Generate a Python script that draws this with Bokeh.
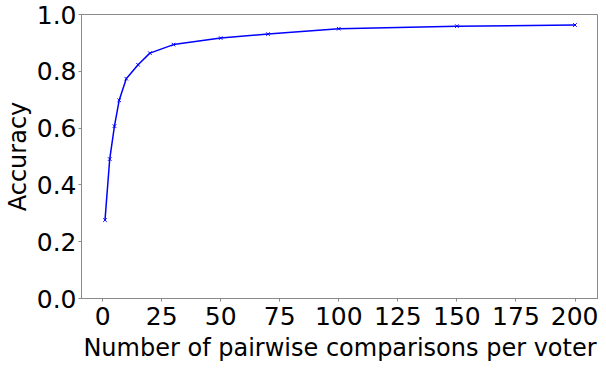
from bokeh.plotting import figure
from bokeh.models import Range1d, FixedTicker, NumeralTickFormatter
from bokeh.embed import file_html
from bokeh.resources import INLINE

comparisons = [1, 3, 5, 7, 10, 15, 20, 30, 50, 70, 100, 150, 200]
accuracy = [0.276, 0.491, 0.607, 0.698, 0.774, 0.823, 0.864, 0.894, 0.917, 0.931, 0.950, 0.959, 0.963]
x_ticks = [0, 25, 50, 75, 100, 125, 150, 175, 200]
y_ticks = [0.0, 0.2, 0.4, 0.6, 0.8, 1.0]

p = figure(width=598, height=364, output_backend="svg", toolbar_location=None,
           x_range=Range1d(-8.95, 209.95), y_range=Range1d(0, 1.0),
           min_border_left=10, min_border_right=0, min_border_top=14, min_border_bottom=10)

p.line(comparisons, accuracy, line_color="#0000ff", line_width=1.5)
p.scatter(comparisons, accuracy, marker="x", size=5, line_color="#0000ff", line_width=1)

p.xgrid.visible = False
p.ygrid.visible = False
p.outline_line_color = "#8a8a8a"
p.outline_line_width = 1

FONT = "DejaVu Sans"
for ax in (p.xaxis[0], p.yaxis[0]):
    ax.axis_line_color = "#8a8a8a"
    ax.major_tick_line_color = "#8a8a8a"
    ax.minor_tick_line_color = None
    ax.major_tick_in = 0
    ax.major_tick_out = 3
    ax.major_label_text_font = FONT
    ax.major_label_text_font_size = "25px"
    ax.major_label_text_color = "black"
    ax.axis_label_text_font = FONT
    ax.axis_label_text_font_size = "24px"
    ax.axis_label_text_font_style = "normal"
    ax.axis_label_text_color = "black"
    ax.major_label_standoff = 2

p.xaxis[0].ticker = FixedTicker(ticks=x_ticks)
p.yaxis[0].ticker = FixedTicker(ticks=y_ticks)
p.yaxis[0].formatter = NumeralTickFormatter(format="0.0")
p.xaxis[0].axis_label = "Number of pairwise comparisons per voter"
p.yaxis[0].axis_label = "Accuracy"
p.xaxis[0].major_label_standoff = 5
p.xaxis[0].axis_label_standoff = 6
p.yaxis[0].axis_label_standoff = 2

open("out.html", "w").write(file_html(p, INLINE))
